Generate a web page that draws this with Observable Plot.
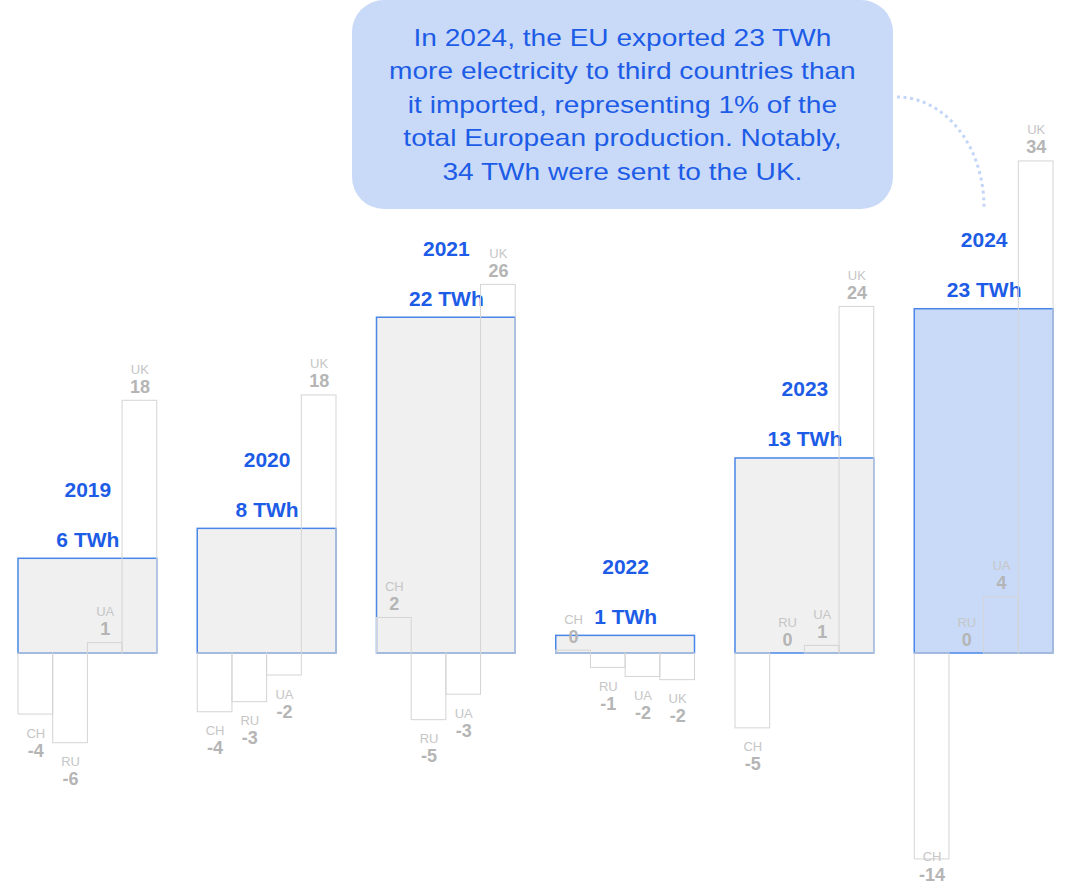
<!DOCTYPE html>
<html><head><meta charset="utf-8">
<script src="https://cdn.jsdelivr.net/npm/d3@7"></script>
<script src="https://cdn.jsdelivr.net/npm/@observablehq/plot@0.6"></script>
<style>
html,body{margin:0;padding:0;background:#fff;}
#wrap{position:relative;width:1068px;height:885px;overflow:hidden;font-family:"Liberation Sans",Arial,sans-serif;}
#wrap > svg{position:absolute;left:0;top:0;}
#note{position:absolute;left:352px;top:0;width:541px;height:209px;background:#c9daf8;border-radius:32px;display:flex;align-items:center;justify-content:center;}
#note span{display:block;text-align:center;color:#1d5ce6;font-size:24px;line-height:33.4px;transform:scaleX(1.17);white-space:nowrap;}
</style></head><body><div id="wrap"></div>
<script>
// ---- data ----
const years = ["2019", "2020", "2021", "2022", "2023", "2024"];
const netTWh = [6.23, 8.2, 22.09, 1.16, 12.83, 22.65];
const countries = ["CH", "RU", "UA", "UK"];
const chTWh = [-4.24, -4.08, 2.47, 0.2, -5.2, -14.3];
const ruTWh = [-6.23, -3.38, -4.63, -1.0, 0, 0];
const uaTWh = [0.72, -1.53, -2.86, -1.63, 0.53, 3.89];
const ukTWh = [17.55, 17.92, 25.6, -1.85, 24.07, 34.17];
const highlightYear = "2024";
const noteLines = [
  "In 2024, the EU exported 23 TWh",
  "more electricity to third countries than",
  "it imported, representing 1% of the",
  "total European production. Notably,",
  "34 TWh were sent to the UK."
];

// ---- tables ----
const series = [chTWh, ruTWh, uaTWh, ukTWh];
const net = years.map((y, i) => ({year: y, value: netTWh[i]}));
const flows = years.flatMap((y, i) => countries.map((c, j) => ({year: y, country: c, value: series[j][i]})));

// ---- layout ----
const W = 1068, H = 885, BASE = 653;      // pixel row of zero
const PX_FLOW = 14.4, PX_NET = 15.2;       // pixels per TWh of each layer
const blue = "#1d5ce6";
const font = "Liberation Sans, Arial, sans-serif";
const common = {width: W, height: H, marginTop: 0, marginBottom: 0, marginLeft: 18, marginRight: 15};

const netPlot = Plot.plot({
  ...common,
  style: {fontFamily: font, background: "white"},
  x: {type: "band", domain: years, paddingInner: 0.226, paddingOuter: 0, round: false, axis: null},
  y: {domain: [-(H - BASE) / PX_NET, BASE / PX_NET], axis: null},
  color: {type: "identity"},
  marks: [
    Plot.barY(net, {x: "year", y: "value", fill: d => d.year === highlightYear ? "#c9daf8" : "#f0f0f0", stroke: "#4a86e8", strokeWidth: 1.5}),
    Plot.text(net, {x: "year", y: "value", text: d => `${Math.round(d.value)} TWh`, lineAnchor: "bottom", dy: -12, fill: blue, fontSize: 21, fontWeight: "bold"}),
    Plot.text(net, {x: "year", y: "value", text: "year", lineAnchor: "bottom", dy: -62, fill: blue, fontSize: 21, fontWeight: "bold"})
  ]
});

const pos = flows.filter(d => d.value >= 0);
const neg = flows.filter(d => d.value < 0 && d.value > -12);
const deep = flows.filter(d => d.value <= -12);
const nameStyle = {fx: "year", x: "country", y: "value", text: "country", lineAnchor: "bottom", fontSize: 13, fill: "#c6c6c6"};
const valStyle = {fx: "year", x: "country", y: "value", text: d => String(Math.round(d.value)).replace("-0", "0"), lineAnchor: "bottom", fontSize: 18, fontWeight: "bold", fill: "#b5b5b5"};

const flowPlot = Plot.plot({
  ...common,
  style: {fontFamily: font, background: "transparent"},
  fx: {domain: years, paddingInner: 0.226, paddingOuter: 0, round: false, axis: null, label: null},
  x: {domain: countries, padding: 0, round: false, axis: null},
  y: {domain: [-(H - BASE) / PX_FLOW, BASE / PX_FLOW], axis: null},
  marks: [
    Plot.barY(flows, {fx: "year", x: "country", y: "value", fill: "none", stroke: "#d4d4d4", strokeWidth: 1}),
    Plot.text(pos, {...nameStyle, dy: -27}),
    Plot.text(pos, {...valStyle, dy: -8}),
    Plot.text(neg, {...nameStyle, dy: 23}),
    Plot.text(neg, {...valStyle, dy: 42}),
    Plot.text(deep, {...nameStyle, dy: 2}),
    Plot.text(deep, {...valStyle, dy: 22})
  ]
});

const wrap = document.getElementById("wrap");
wrap.appendChild(netPlot);
wrap.appendChild(flowPlot);

// annotation connector
const conn = d3.create("svg").attr("width", W).attr("height", H).style("position", "absolute").style("left", 0).style("top", 0);
conn.append("path").attr("d", "M897,97 A87,110 0 0 1 984,207")
  .attr("fill", "none").attr("stroke", "#c3d6f7").attr("stroke-width", 3).attr("stroke-dasharray", "3,3.6");
wrap.appendChild(conn.node());

// annotation box
const note = document.createElement("div");
note.id = "note";
const span = document.createElement("span");
span.innerHTML = noteLines.join("<br>");
note.appendChild(span);
wrap.appendChild(note);
</script>
</body></html>
